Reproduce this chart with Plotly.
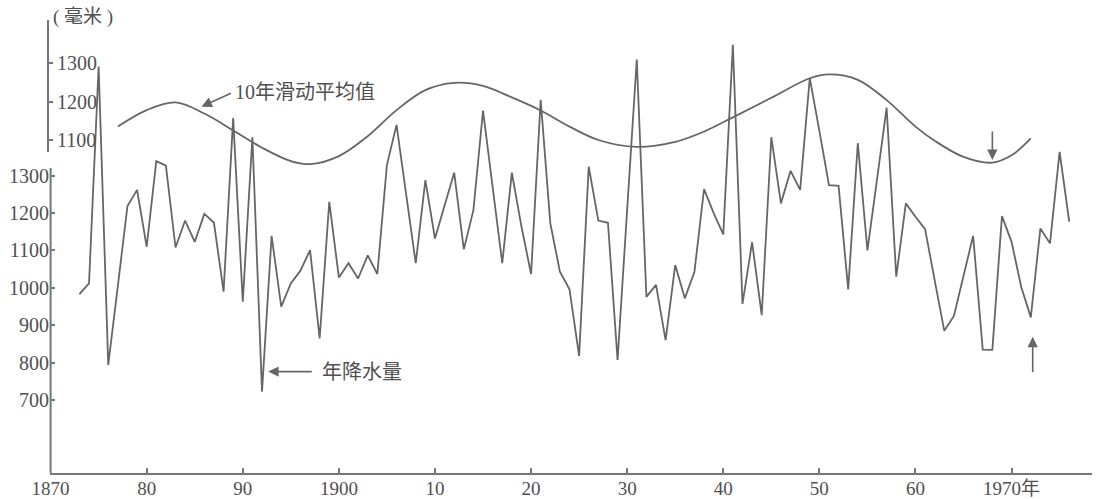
import plotly.graph_objects as go

# ---------------- data ----------------
years = list(range(1873, 1977))
precip = [
    983, 1012, 1592, 794, 1005, 1219, 1262, 1110, 1339, 1327,   # 1873-1882
    1108, 1180, 1123, 1198, 1174, 990, 1454, 963, 1403, 722,     # 1883-1892
    1139, 950, 1012, 1046, 1101, 865, 1230, 1028, 1066, 1025,    # 1893-1902
    1087, 1037, 1329, 1436, 1250, 1066, 1288, 1132, 1220, 1308,  # 1903-1912
    1103, 1208, 1474, 1270, 1066, 1308, 1164, 1037, 1503, 1173,  # 1913-1922
    1043, 996, 818, 1324, 1180, 1174, 807, 1210, 1611, 976,      # 1923-1932
    1008, 860, 1061, 972, 1043, 1264, 1200, 1143, 1650, 957,     # 1933-1942
    1122, 927, 1403, 1226, 1313, 1262, 1561, 1420, 1275, 1273,   # 1943-1952
    996, 1387, 1100, 1290, 1482, 1030, 1226, 1190, 1157, 1020,   # 1953-1962
    885, 925, 1030, 1139, 835, 834, 1192, 1123, 1003, 921,       # 1963-1972
    1159, 1119, 1364, 1177                                       # 1973-1976
]
assert len(precip) == len(years)

ma_years = [1877, 1880, 1883, 1886, 1889, 1892, 1895, 1897, 1900, 1903,
            1906, 1909, 1912, 1915, 1918, 1921, 1924, 1927, 1931, 1935,
            1938, 1941, 1945, 1949, 1951, 1954, 1957, 1960, 1962, 1965,
            1968, 1970, 1972]
ma_values = [1135, 1178, 1198, 1169, 1125, 1080, 1045, 1037, 1058, 1110,
             1178, 1230, 1249, 1241, 1211, 1177, 1135, 1100, 1082, 1095,
             1122, 1159, 1210, 1261, 1271, 1257, 1204, 1135, 1098, 1056,
             1041, 1060, 1104]

x_tickvals = [1870, 1880, 1890, 1900, 1910, 1920, 1930, 1940, 1950, 1960, 1970]
x_ticktext = ['1870', '80', '90', '1900', '10', '20', '30', '40', '50', '60', '1970年']
y_lower_ticks = [700, 800, 900, 1000, 1100, 1200, 1300]
y_upper_ticks = [1100, 1200, 1300]

# ---------------- layout geometry ----------------
W, H = 1097, 499
ML, MR, MT, MB = 48, 5, 10, 26
PW = W - ML - MR
PH = H - MT - MB
X0 = 1869.95
X_DOM0 = 2.1 / PW

LINE = '#666666'
AXC = '#777777'
TXT = '#505050'
FONT = 'Liberation Serif, Noto Sans CJK SC, serif'

fig = go.Figure()
fig.add_trace(go.Scatter(
    x=years, y=precip, mode='lines', yaxis='y',
    line=dict(color=LINE, width=1.8), hoverinfo='skip', showlegend=False))
fig.add_trace(go.Scatter(
    x=ma_years, y=ma_values, mode='lines', yaxis='y2',
    line=dict(color=LINE, width=1.8, shape='spline', smoothing=1.0),
    hoverinfo='skip', showlegend=False))

tickfont = dict(family=FONT, size=20, color=TXT)

fig.update_layout(
    width=W, height=H,
    margin=dict(l=ML, r=MR, t=MT, b=MB, autoexpand=False),
    paper_bgcolor='white', plot_bgcolor='white',
    showlegend=False,
    xaxis=dict(
        domain=[X_DOM0, 1], range=[X0, 1978.37],
        showline=True, linecolor=AXC, linewidth=2,
        ticks='inside', ticklen=5, tickwidth=1.5, tickcolor=AXC,
        tickvals=x_tickvals, ticktext=x_ticktext,
        tickfont=dict(family=FONT, size=19, color=TXT),
        ticklabelstandoff=-3,
        showgrid=False, zeroline=False, automargin=False),
    yaxis=dict(
        range=[504.7, 1743.3], showline=False,
        ticks='inside', ticklen=5, tickwidth=1.5, tickcolor=AXC,
        tickvals=y_lower_ticks, tickfont=tickfont,
        showgrid=False, zeroline=False, automargin=False),
    yaxis2=dict(
        overlaying='y', anchor='free', position=0, side='right',
        range=[231.7, 1439.0], showline=False,
        ticks='outside', ticklen=4, tickwidth=1.5, tickcolor=AXC,
        tickvals=y_upper_ticks, tickfont=tickfont,
        showgrid=False, zeroline=False, automargin=False),
)

# partial axis lines
fig.add_shape(type='line', xref='paper', yref='y', x0=2.6 / PW, x1=2.6 / PW,
              y0=504.7, y1=1320.6, line=dict(color=AXC, width=2))
fig.add_shape(type='line', xref='paper', yref='y2', x0=0, x1=0,
              y0=1068.7, y1=1412.9, line=dict(color=AXC, width=2))

# unit label
fig.add_annotation(text='( 毫米 )', xref='paper', yref='paper',
                   x=(82.5 - ML) / PW, y=1 - (17 - MT) / PH,
                   xanchor='center', yanchor='middle', showarrow=False,
                   font=dict(family=FONT, size=19, color=TXT))

ann_font = dict(family=FONT, size=20, color=TXT)
arrow = dict(showarrow=True, arrowhead=2, arrowsize=1.3, arrowwidth=1.6,
             arrowcolor=LINE, text='')

# moving-average label + arrow
fig.add_annotation(text='10年滑动平均值', xref='x', yref='y2', x=1889.0, y=1225,
                   xanchor='left', yanchor='middle', showarrow=False, font=ann_font)
fig.add_annotation(xref='x', yref='y2', x=1885.7, y=1187, ax=31, ay=-14, **arrow)

# annual precipitation label + arrow
fig.add_annotation(text='年降水量', xref='x', yref='y', x=1898.0, y=776,
                   xanchor='left', yanchor='middle', showarrow=False, font=ann_font)
fig.add_annotation(xref='x', yref='y', x=1892.65, y=776, ax=45, ay=0, **arrow)

# marker arrows near the end
fig.add_annotation(xref='x', yref='y2', x=1968, y=1048, ax=0, ay=-30, **arrow)
fig.add_annotation(xref='x', yref='y', x=1972.2, y=869, ax=0, ay=37, **arrow)

fig.write_html('out.html', config={'displayModeBar': False},
               post_script="document.body.style.margin='0px';")
